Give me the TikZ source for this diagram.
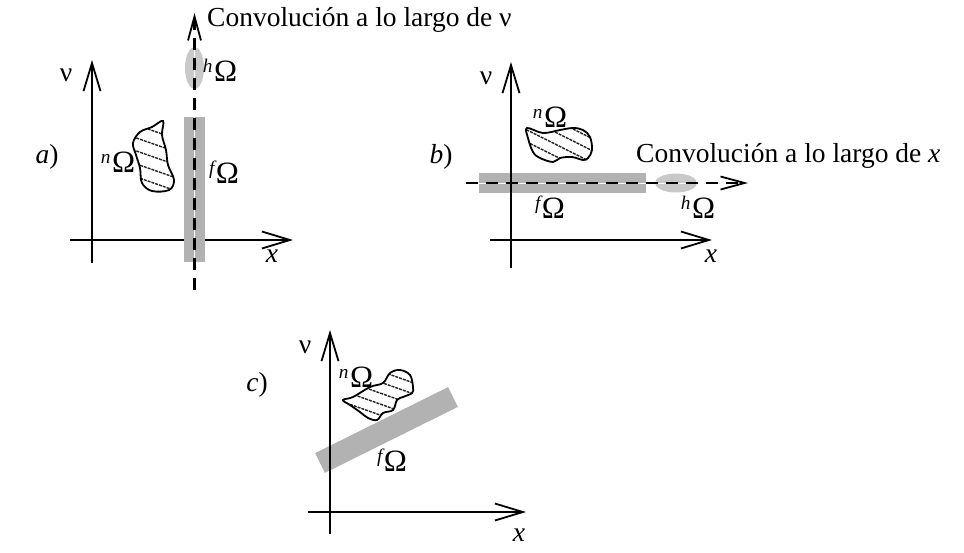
\documentclass[tikz,border=0pt]{standalone}
\usepackage{fontspec}
\setmainfont{Liberation Serif}
\usetikzlibrary{arrows.meta}
\newcommand\omlab[1]{\textsuperscript{\itshape #1}\kern1pt{\fontsize{31}{34}\selectfont Ω}}
\begin{document}
\begin{tikzpicture}[x=1pt,y=-1pt,
  every node/.style={font=\fontsize{27.5}{32}\selectfont, inner sep=0pt},
  axisline/.style={line width=2pt, -{Straight Barb[length=28pt,width=17pt,line width=1.8pt]}},
  convline/.style={line width=2.2pt, dash pattern=on 12pt off 8pt, -{Straight Barb[length=24pt,width=13pt,line width=1.8pt]}},
  centreline/.style={white, line width=0.9pt},
  barfill/.style={fill=black!30},
  ellfill/.style={fill=black!21},
  blobline/.style={line width=1.8pt},
  hatch/.style={black!85, line width=1.4pt, dash pattern=on 3pt off 1pt}
]
\useasboundingbox (0,0) rectangle (964,552);

% ---------------- panel a ----------------
\coordinate (aO1) at (70,240);  \coordinate (aX) at (293,240);
\coordinate (aO2) at (92,263);  \coordinate (aV) at (92,60);
\draw[axisline] (aO1) -- (aX);
\draw[axisline] (aO2) -- (aV);
\fill[barfill] (184,117) rectangle (205,262);
\fill[ellfill] (194.5,68) ellipse [x radius=9.5, y radius=21];
\coordinate (aC1) at (194.5,290); \coordinate (aC2) at (194.5,13);
\draw[centreline] (194.5,262) -- (194.5,117);
\draw[centreline] (194.5,89) -- (194.5,47);
\draw[convline] (aC1) -- (aC2);
\begin{scope}
  \clip plot[smooth cycle, tension=0.6] coordinates {(163,121) (162,135) (166,150) (168,165) (174,180) (169,190) (152,191) (142,183) (140,168) (136,155) (133,143) (140,132) (152,127)};
  \foreach \i in {0,...,7} \draw[hatch] (125,95+13*\i) -- ++(60,21);
\end{scope}
\draw[blobline] plot[smooth cycle, tension=0.6] coordinates {(163,121) (162,135) (166,150) (168,165) (174,180) (169,190) (152,191) (142,183) (140,168) (136,155) (133,143) (140,132) (152,127)};
\node (anu) at (66,75) {ν};
\node (ax) at (272,256) {\itshape x};
\node (alab) at (47,157) {\textit{a})};
\node (ahom) at (220,70) {\omlab{h}};
\node (afom) at (224,172) {\omlab{f}};
\node (anom) at (118,162) {\omlab{n}};
\node[anchor=base west] (atext) at (207,26) {Convolución a lo largo de ν};

% ---------------- panel b ----------------
\fill[barfill] (479,173) rectangle (646,193);
\fill[ellfill] (676,183) ellipse [x radius=21, y radius=9.5];
\coordinate (bO1) at (490,240);  \coordinate (bX) at (712,240);
\coordinate (bO2) at (511,268);  \coordinate (bV) at (511,62);
\draw[axisline] (bO1) -- (bX);
\draw[axisline] (bO2) -- (bV);
\draw[centreline] (479,183) -- (646,183);
\draw[centreline] (655,183) -- (697,183);
\coordinate (bC1) at (466,183); \coordinate (bC2) at (748,183);
\draw[convline] (bC1) -- (bC2);
\begin{scope}
  \clip plot[smooth cycle, tension=0.6] coordinates {(527,128) (543,133) (560,130) (573,128) (583,130) (590,137) (592,150) (588,158) (583,160) (572,157) (560,158) (553,162) (540,158) (533,152) (528,138)};
  \foreach \i in {0,...,6} \draw[hatch] (505,95+12*\i) -- ++(90,45);
\end{scope}
\draw[blobline] plot[smooth cycle, tension=0.6] coordinates {(527,128) (543,133) (560,130) (573,128) (583,130) (590,137) (592,150) (588,158) (583,160) (572,157) (560,158) (553,162) (540,158) (533,152) (528,138)};
\node (bnu) at (486,78) {ν};
\node (bx) at (711,256) {\itshape x};
\node (blab) at (441,157) {\textit{b})};
\node (bhom) at (698,207) {\omlab{h}};
\node (bfom) at (550,207) {\omlab{f}};
\node (bnom) at (550,117) {\omlab{n}};
\node[anchor=base west] (btext) at (636,162) {Convolución a lo largo de \textit{x}};

% ---------------- panel c ----------------
\fill[barfill] (315.1,453.1) -- (324.9,472.9) -- (457.9,406.9) -- (448.1,387.1) -- cycle;
\coordinate (cO1) at (308,512);  \coordinate (cX) at (526,512);
\coordinate (cO2) at (330,534);  \coordinate (cV) at (330,330);
\draw[axisline] (cO1) -- (cX);
\draw[axisline] (cO2) -- (cV);
\fill[white] plot[smooth cycle, tension=0.6] coordinates {(343,400) (353,397) (370,387) (383,383) (390,373) (400,370) (410,375) (413,387) (412,393) (403,397) (397,400) (393,410) (383,413) (377,420) (368,418) (360,412) (350,405)};
\begin{scope}
  \clip plot[smooth cycle, tension=0.6] coordinates {(343,400) (353,397) (370,387) (383,383) (390,373) (400,370) (410,375) (413,387) (412,393) (403,397) (397,400) (393,410) (383,413) (377,420) (368,418) (360,412) (350,405)};
  \foreach \i in {0,...,8} \draw[hatch] (335,355+11*\i) -- ++(90,32);
\end{scope}
\draw[blobline] plot[smooth cycle, tension=0.6] coordinates {(343,400) (353,397) (370,387) (383,383) (390,373) (400,370) (410,375) (413,387) (412,393) (403,397) (397,400) (393,410) (383,413) (377,420) (368,418) (360,412) (350,405)};
\node (cnu) at (305,347) {ν};
\node (cx) at (519,535) {\itshape x};
\node (clab) at (257,385) {\textit{c})};
\node (cfom) at (392,460) {\omlab{f}};
\node (cnom) at (356,377) {\omlab{n}};
\end{tikzpicture}
\end{document}
